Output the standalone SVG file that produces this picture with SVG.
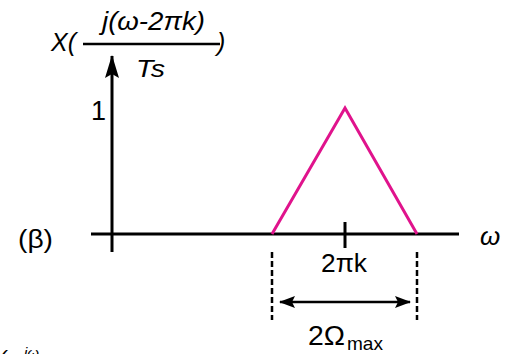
<svg xmlns="http://www.w3.org/2000/svg" width="510" height="354" viewBox="0 0 510 354">
<style>
text{font-family:"Liberation Sans",Arial,sans-serif;fill:#000}
.it{font-style:italic}
.ax{stroke:#000;stroke-width:3;fill:none}
.dash{stroke:#000;stroke-width:2.5;stroke-dasharray:6 3;fill:none}
.tri{stroke:#e0138c;stroke-width:3;fill:none;stroke-linejoin:miter}
</style>
<defs>
<marker id="ah" viewBox="0 0 23 14" refX="22" refY="7" markerWidth="23" markerHeight="14" orient="auto" markerUnits="userSpaceOnUse">
<path d="M0,0 L23,7 L0,14 L4,7 Z" fill="#000"/>
</marker>
<marker id="ah2" viewBox="0 0 16 12" refX="15" refY="6" markerWidth="16" markerHeight="12" orient="auto-start-reverse" markerUnits="userSpaceOnUse">
<path d="M0,0 L16,6 L0,12 L3,6 Z" fill="#000"/>
</marker>
</defs>
<rect width="510" height="354" fill="#fff"/>
<g id="connectors">
<line class="ax" x1="112" y1="252" x2="112" y2="56" marker-end="url(#ah)"/>
<line class="ax" x1="91" y1="234" x2="459" y2="234"/>
<line class="ax" x1="345" y1="222" x2="345" y2="248"/>
<line class="dash" x1="272" y1="252" x2="272" y2="320"/>
<line class="dash" x1="417" y1="252" x2="417" y2="320"/>
<line stroke="#000" stroke-width="2.5" x1="280" y1="302" x2="410" y2="302" marker-start="url(#ah2)" marker-end="url(#ah2)"/>
<line stroke="#000" stroke-width="2.5" x1="83" y1="44" x2="220" y2="44"/>
</g>
<g id="spectrum">
<polyline class="tri" points="272,234 345,108 417,234"/>
</g>
<g id="ylabel">
<text x="51" y="51" font-size="25" class="it">X(</text>
<text x="102" y="30" font-size="25" class="it" textLength="103" lengthAdjust="spacingAndGlyphs">j(ω-2πk)</text>
<text x="136" y="77" font-size="24" class="it" textLength="29" lengthAdjust="spacingAndGlyphs">Ts</text>
<text x="217" y="51" font-size="25" class="it">)</text>
</g>
<g id="labels">
<text x="91" y="120" font-size="27">1</text>
<text x="18" y="248" font-size="26" textLength="35" lengthAdjust="spacingAndGlyphs">(β)</text>
<text x="480" y="245" font-size="26" class="it">ω</text>
<text x="344" y="272" font-size="26" text-anchor="middle" textLength="46" lengthAdjust="spacingAndGlyphs">2πk</text>
<text x="308" y="345" font-size="27" textLength="37" lengthAdjust="spacingAndGlyphs">2Ω</text>
<text x="347" y="350" font-size="19" textLength="36" lengthAdjust="spacingAndGlyphs">max</text>
<text x="-16" y="366" font-size="22" class="it">X(e</text>
<text x="24" y="358" font-size="15" class="it">jω</text>
</g>
</svg>
